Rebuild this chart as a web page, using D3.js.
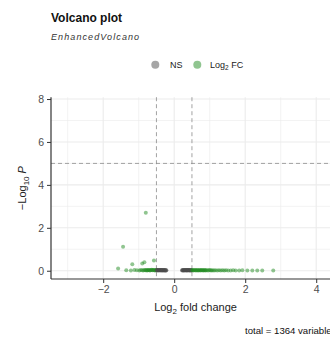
<!DOCTYPE html>
<html><head><meta charset="utf-8">
<script src="https://cdn.jsdelivr.net/npm/d3@7"></script>
<style>body{margin:0;background:#fff;overflow:hidden}svg{display:block}text{font-family:"Liberation Sans",Arial,sans-serif}</style>
</head><body>
<script>
// data
const logFC = [
 -1.58,-1.44,-1.18,-0.90,-0.84,-0.80,-0.57,
 -1.35,-1.22,-1.12,-1.05,-0.98,-0.94,-0.90,-0.87,-0.84,-0.81,-0.79,-0.77,-0.75,-0.73,-0.71,-0.69,-0.67,-0.65,-0.63,-0.61,-0.59,-0.57,-0.55,-0.53,-0.51,
 -0.50,-0.49,-0.48,-0.47,-0.46,-0.45,-0.44,-0.43,-0.42,-0.41,-0.40,-0.39,-0.38,-0.37,-0.36,-0.35,-0.34,-0.33,-0.32,-0.31,-0.30,-0.29,-0.28,-0.27,-0.26,-0.25,-0.24,-0.23,-0.22,
 0.22,0.23,0.24,0.25,0.26,0.27,0.28,0.29,0.30,0.31,0.32,0.33,0.34,0.35,0.36,0.37,0.38,0.39,0.40,0.41,0.42,0.43,0.44,0.45,0.46,0.47,0.48,0.49,
 0.50,0.52,0.54,0.56,0.58,0.60,0.62,0.64,0.66,0.68,0.70,0.72,0.74,0.76,0.78,0.80,0.82,0.84,0.86,0.88,0.90,0.93,0.96,0.99,1.02,1.05,1.08,1.12,1.16,1.21,1.26,1.31,1.36,1.41,1.46,1.52,1.59,1.66,1.73,1.83,1.92,2.06,2.20,2.34,2.48,2.79
];
const negLog10P = [
 0.11,1.12,0.30,0.34,0.40,2.70,0.48,
 0.02,0.01,0.03,0.02,0.01,0.03,0.02,0.01,0.04,0.02,0.03,0.01,0.02,0.04,0.03,0.01,0.02,0.03,0.05,0.02,0.04,0.03,0.01,0.02,0.03,
 0.02,0.03,0.01,0.04,0.02,0.03,0.01,0.02,0.04,0.03,0.02,0.01,0.03,0.02,0.04,0.01,0.02,0.03,0.01,0.02,0.03,0.02,0.01,0.02,0.03,0.01,0.02,0.01,0.02,
 0.02,0.01,0.03,0.02,0.01,0.02,0.03,0.01,0.02,0.04,0.02,0.03,0.01,0.02,0.03,0.01,0.02,0.04,0.03,0.02,0.01,0.03,0.02,0.01,0.02,0.03,0.02,0.01,
 0.02,0.03,0.01,0.02,0.04,0.02,0.01,0.03,0.02,0.01,0.02,0.03,0.01,0.02,0.03,0.02,0.01,0.02,0.03,0.01,0.02,0.02,0.01,0.03,0.02,0.01,0.02,0.01,0.02,0.01,0.02,0.01,0.02,0.01,0.02,0.01,0.01,0.02,0.01,0.01,0.02,0.01,0.01,0.01,0.01,0.01
];
const xTicks = [-2, 0, 2, 4];
const yTicks = [0, 2, 4, 6, 8];
const legendLabels = ["NS", "Log2 FC"];
const FCcutoff = 0.5, pCutoff = 5;
const totalVariables = 1364;

const W = 330, H = 337;
const svg = d3.select("body").append("svg").attr("width", W).attr("height", H);
const x = d3.scaleLinear().domain([-3.47, 4.67]).range([51, 340]);
const y = d3.scaleLinear().domain([-0.385, 8.085]).range([279, 97.2]);
const [x0, x1] = x.range(), [y0, y1] = y.range();

// grid
const g = svg.append("g");
const minorX = d3.range(-3, 5, 1), minorY = d3.range(0, 9, 1);
g.selectAll(".gx").data(minorX).join("line").attr("x1", d => x(d)).attr("x2", d => x(d)).attr("y1", y1).attr("y2", y0)
 .attr("stroke", "#EBEBEB").attr("stroke-width", d => xTicks.includes(d) ? 1.1 : 0.6);
g.selectAll(".gy").data(minorY).join("line").attr("y1", d => y(d)).attr("y2", d => y(d)).attr("x1", x0).attr("x2", x1)
 .attr("stroke", "#EBEBEB").attr("stroke-width", d => yTicks.includes(d) ? 1.1 : 0.6);

// cutoff lines
const dash = "4,3";
[-FCcutoff, FCcutoff].forEach(v => svg.append("line").attr("x1", x(v)).attr("x2", x(v)).attr("y1", y1).attr("y2", y0)
 .attr("stroke", "#8c8c8c").attr("stroke-width", 0.8).attr("stroke-dasharray", dash));
svg.append("line").attr("x1", x0).attr("x2", x1).attr("y1", y(pCutoff)).attr("y2", y(pCutoff))
 .attr("stroke", "#8c8c8c").attr("stroke-width", 0.8).attr("stroke-dasharray", dash);

// points
const pts = logFC.map((v, i) => ({x: v, y: negLog10P[i]}));
svg.append("g").selectAll("circle").data(pts).join("circle")
 .attr("cx", d => x(d.x)).attr("cy", d => y(d.y)).attr("r", 2)
 .attr("fill", d => Math.abs(d.x) >= FCcutoff ? "#228B22" : "#4D4D4D").attr("fill-opacity", 0.5);

// axes
const xAxis = d3.axisBottom(x).tickValues(xTicks).tickSize(4).tickPadding(3).tickFormat(d3.format("d"));
const yAxis = d3.axisLeft(y).tickValues(yTicks).tickSize(4).tickPadding(3);
const ax = svg.append("g").attr("transform", `translate(0,${y0})`).call(xAxis);
const ay = svg.append("g").attr("transform", `translate(${x0},0)`).call(yAxis);
[ax, ay].forEach(a => {
  a.select(".domain").attr("stroke", "#333").attr("stroke-width", 1.2);
  a.selectAll(".tick line").attr("stroke", "#333").attr("stroke-width", 1);
  a.selectAll(".tick text").attr("fill", "#4D4D4D").style("font-size", "10.5px").style("font-family", '"Liberation Sans",Arial,sans-serif');
});
ax.select(".domain").attr("d", `M${x0},0H${x1}`);
ay.select(".domain").attr("d", `M0,${y1}V${y0}`);

// axis titles
const xl = svg.append("text").attr("x", (x0 + x1) / 2).attr("y", 311).attr("text-anchor", "middle").style("font-size", "11px").attr("fill", "#222");
xl.append("tspan").text("Log");
xl.append("tspan").text("2").attr("dy", 3).style("font-size", "8px");
xl.append("tspan").text(" fold change").attr("dy", -3);
const yl = svg.append("text").attr("transform", `translate(26,${(y0 + y1) / 2}) rotate(-90)`).attr("text-anchor", "middle").style("font-size", "11px").attr("fill", "#222");
yl.append("tspan").text("\u2212Log");
yl.append("tspan").text("10").attr("dy", 3).style("font-size", "8px");
yl.append("tspan").text(" ").attr("dy", -3);
yl.append("tspan").text("P").style("font-style", "italic");

// title
svg.append("text").attr("x", 51).attr("y", 22).text("Volcano plot").style("font-size", "12px").style("font-weight", "bold").attr("fill", "#111");
svg.append("text").attr("x", 51).attr("y", 40).text("EnhancedVolcano").style("font-size", "9px").style("font-style", "italic").style("letter-spacing", "1.1px").attr("fill", "#333");

// legend
const lg = svg.append("g");
lg.append("circle").attr("cx", 155.3).attr("cy", 64.7).attr("r", 4).attr("fill", "#4D4D4D").attr("fill-opacity", 0.5);
lg.append("text").attr("x", 170).attr("y", 68).text(legendLabels[0]).style("font-size", "9px").attr("fill", "#222");
lg.append("circle").attr("cx", 197.3).attr("cy", 64.7).attr("r", 4).attr("fill", "#228B22").attr("fill-opacity", 0.5);
const l2 = lg.append("text").attr("x", 210).attr("y", 68).style("font-size", "9px").attr("fill", "#222");
l2.append("tspan").text("Log");
l2.append("tspan").text("2").attr("dy", 2).style("font-size", "6.5px");
l2.append("tspan").text(" FC").attr("dy", -2);

// caption
svg.append("text").attr("x", 245).attr("y", 334).text(`total = ${totalVariables} variables`).style("font-size", "9.6px").attr("fill", "#111");
</script>
</body></html>
